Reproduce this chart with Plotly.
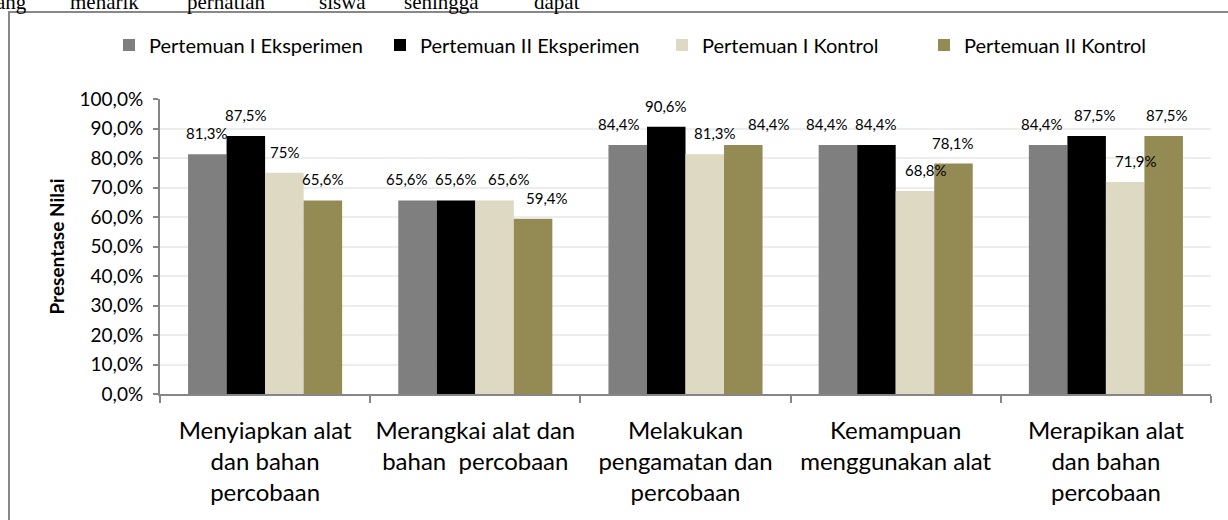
import plotly.graph_objects as go

# ---- data ----
categories = [
    "Menyiapkan alat<br>dan bahan<br>percobaan",
    "Merangkai alat dan<br>bahan  percobaan",
    "Melakukan<br>pengamatan dan<br>percobaan",
    "Kemampuan<br>menggunakan alat",
    "Merapikan alat<br>dan bahan<br>percobaan",
]
series_names = [
    "Pertemuan I Eksperimen",
    "Pertemuan II Eksperimen",
    "Pertemuan I Kontrol",
    "Pertemuan II Kontrol",
]
pert1_eksperimen = [0.813, 0.656, 0.844, 0.844, 0.844]
pert2_eksperimen = [0.875, 0.656, 0.906, 0.844, 0.875]
pert1_kontrol = [0.75, 0.656, 0.813, 0.688, 0.719]
pert2_kontrol = [0.656, 0.594, 0.844, 0.781, 0.875]
label_texts = [
    ["81,3%", "65,6%", "84,4%", "84,4%", "84,4%"],
    ["87,5%", "65,6%", "90,6%", "84,4%", "87,5%"],
    ["75%", "65,6%", "81,3%", "68,8%", "71,9%"],
    ["65,6%", "59,4%", "84,4%", "78,1%", "87,5%"],
]
series_values = [pert1_eksperimen, pert2_eksperimen, pert1_kontrol, pert2_kontrol]
colors = ["#7F7F7F", "#000000", "#DDD9C3", "#948A54"]

y_ticks = [i / 10 for i in range(11)]
header_words = ["ang", "menarik", "perhatian", "siswa", "sehingga", "dapat"]

# ---- layout tweaks (label nudges in px, header word positions in px) ----
label_dx = [
    [0, -11, -9, -11, -6],
    [0, 0, 0, 0, 8],
    [0, 14, 10, 11, 11],
    [0, 14, 26, 0, 3],
]
header_x_px = [-6, 68, 185, 317, 402, 532]

FONT = "Lato, 'Open Sans', sans-serif"
W, H = 1228, 520
ML, MR, MT, MB = 160, 17, 99, 126
BARGAP = 0.267
plot_w = W - ML - MR
plot_h = H - MT - MB
cat_w = plot_w / len(categories)
bar_w = cat_w * (1 - BARGAP) / len(series_names)

legend_ids = ["legend", "legend2", "legend3", "legend4"]
legend_x_px = [109, 380, 662, 924]

fig = go.Figure()
for name, vals, col, lid in zip(series_names, series_values, colors, legend_ids):
    fig.add_trace(go.Bar(
        name=name, x=categories, y=vals, marker=dict(color=col, line=dict(width=0)),
        hoverinfo="skip", legend=lid, showlegend=True,
    ))

annotations = []
for i, (vals, texts, dxs) in enumerate(zip(series_values, label_texts, label_dx)):
    for c, v, t, dx in zip(categories, vals, texts, dxs):
        annotations.append(dict(
            x=c, y=v, xref="x", yref="y", text=t, showarrow=False,
            xshift=(i - 1.5) * bar_w + dx, yshift=21, yanchor="middle",
            font=dict(family=FONT, size=15, color="#000000"),
        ))

for word, px in zip(header_words, header_x_px):
    annotations.append(dict(
        x=(px - ML) / plot_w, y=(H - MB - 16) / plot_h, xref="paper", yref="paper",
        xanchor="left", yanchor="bottom", text=word, showarrow=False,
        font=dict(family="'Liberation Serif', serif", size=21, color="#000000"),
    ))

legend_layouts = {}
for lid, lx in zip(legend_ids, legend_x_px):
    legend_layouts[lid] = dict(
        orientation="h", xref="container", yref="container",
        x=lx / W, y=1 - 45 / H, xanchor="left", yanchor="middle",
        font=dict(family=FONT, size=20, color="#000000"),
        itemwidth=30, bgcolor="rgba(0,0,0,0)", visible=True,
    )

fig.update_layout(
    width=W, height=H, showlegend=True,
    margin=dict(l=ML, r=MR, t=MT, b=MB, autoexpand=False),
    paper_bgcolor="white", plot_bgcolor="white",
    barmode="group", bargap=BARGAP, bargroupgap=0,
    separators=",.",
    font=dict(family=FONT, color="#000000"),
    annotations=annotations,
    shapes=[dict(
        type="rect", xref="paper", yref="paper",
        x0=(9 - ML) / plot_w, x1=(1240 - ML) / plot_w,
        y0=(H - MB - 540) / plot_h, y1=(H - MB - 12) / plot_h,
        line=dict(color="#888888", width=2), fillcolor="rgba(0,0,0,0)", layer="below",
    )],
    **legend_layouts,
)

fig.update_yaxes(
    automargin=False,
    range=[0, 1.0], tickvals=y_ticks, tickformat=".1%",
    showgrid=True, gridcolor="#EDEDED", gridwidth=2,
    showline=True, linecolor="#868686", linewidth=2,
    ticks="outside", ticklen=5, tickcolor="#868686", tickwidth=2,
    tickfont=dict(family=FONT, size=19, color="#000000"),
    ticklabelstandoff=6,
    zeroline=False,
    title=dict(text="<b>Presentase Nilai</b>", standoff=10,
               font=dict(family=FONT, size=19, color="#000000")),
)
fig.update_xaxes(
    automargin=False,
    showline=True, linecolor="#868686", linewidth=2,
    ticks="outside", ticklen=7, tickcolor="#868686", tickwidth=2,
    tickson="boundaries",
    tickfont=dict(family=FONT, size=24, color="#000000"),
    ticklabelstandoff=14,
)

fig.write_html("out.html", config={"displayModeBar": False},
               post_script="document.body.style.margin='0';")
